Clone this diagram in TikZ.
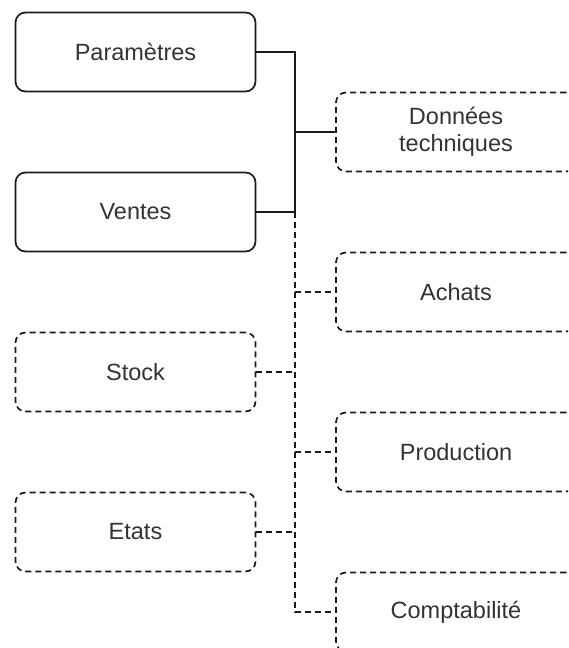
\documentclass[tikz,border=0pt]{standalone}
\usepackage{fontspec}
\setmainfont{Liberation Sans}
\definecolor{txt}{HTML}{333333}
\definecolor{ln}{HTML}{1A1A1A}
\begin{document}
\begin{tikzpicture}[x=1pt,y=-1pt,
  box/.style={draw=ln, line width=1.7pt, rounded corners=10pt, minimum width=240pt, minimum height=79pt,
    inner sep=0pt, align=center, text=txt, font=\fontsize{23.5}{27}\selectfont},
  dbox/.style={box, dash pattern=on 6pt off 4pt},
  link/.style={draw=ln, line width=1.7pt},
  dlink/.style={link, dash pattern=on 6pt off 4pt}]
\useasboundingbox (0,0) rectangle (568,648);
\clip (0,0) rectangle (568,648);
\fill[white] (0,0) rectangle (568,648);
% left boxes
\node[box]  (par) at (135.5,52)  {Paramètres};
\node[box]  (ven) at (135.5,212) {Ventes};
\node[dbox] (sto) at (135.5,372) {Stock};
\node[dbox] (eta) at (135.5,532) {Etats};
% right boxes
\node[dbox] (don) at (456,132) {Données\\techniques};
\node[dbox] (ach) at (456,292) {Achats};
\node[dbox] (pro) at (456,452) {Production};
\node[dbox] (com) at (456,612) {Comptabilité};
% bus points
\coordinate (bP) at (295,52);
\coordinate (bV) at (295,212);
\coordinate (bC) at (295,612);
% solid links
\draw[link] (par.east) -- (bP) -- (bV) -- (ven.east);
\draw[link] (bP |- don.west) -- (don.west);
% dashed links
\draw[dlink] (bV) -- (bC) -- (com.west);
\draw[dlink] (bV |- ach.west) -- (ach.west);
\draw[dlink] (sto.east) -- (sto.east -| bV);
\draw[dlink] (bV |- pro.west) -- (pro.west);
\draw[dlink] (eta.east) -- (eta.east -| bV);
\end{tikzpicture}
\end{document}
